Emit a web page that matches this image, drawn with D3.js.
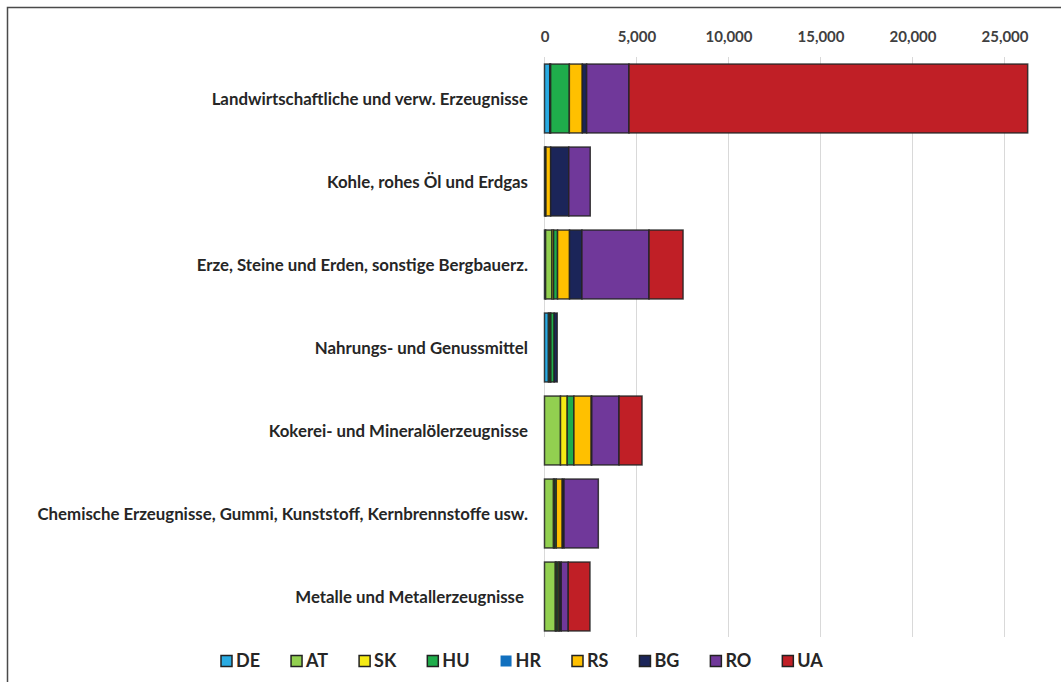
<!DOCTYPE html>
<html>
<head>
<meta charset="utf-8">
<script src="https://cdn.jsdelivr.net/npm/d3@7"></script>
<style>
  body { margin: 0; background: #fff; }
  text { font-family: Lato, "Open Sans", sans-serif; font-weight: bold; }
</style>
</head>
<body>
<script>
var categories = [
  "Landwirtschaftliche und verw. Erzeugnisse",
  "Kohle, rohes Öl und Erdgas",
  "Erze, Steine und Erden, sonstige Bergbauerz.",
  "Nahrungs- und Genussmittel",
  "Kokerei- und Mineralölerzeugnisse",
  "Chemische Erzeugnisse, Gummi, Kunststoff, Kernbrennstoffe usw.",
  "Metalle und Metallerzeugnisse\u00a0"
];
var countries = ["DE", "AT", "SK", "HU", "HR", "RS", "BG", "RO", "UA"];
var colors = ["#29abe2", "#92d050", "#f5ea14", "#1fad4b", "#1170bf", "#ffc000", "#1b2559", "#70389a", "#c01f26"];

// values per country, one per category (same order as categories)
var DE = [285, 0, 60, 215, 0, 0, 0];
var AT = [50, 40, 345, 80, 870, 490, 590];
var SK = [0, 0, 90, 50, 365, 60, 50];
var HU = [1015, 40, 215, 180, 365, 90, 100];
var HR = [0, 0, 0, 0, 0, 0, 0];
var RS = [705, 255, 650, 0, 940, 325, 75];
var BG = [235, 985, 675, 165, 30, 95, 95];
var RO = [2300, 1165, 3645, 0, 1480, 1865, 380];
var UA = [21670, 0, 1850, 0, 1250, 0, 1180];
var tickValues = [0, 5000, 10000, 15000, 20000, 25000];

var series = [DE, AT, SK, HU, HR, RS, BG, RO, UA];
var table = categories.map(function(c, i) {
  var row = {cat: c};
  countries.forEach(function(k, j) { row[k] = series[j][i]; });
  return row;
});

var W = 1061, H = 682;
var svg = d3.select("body").append("svg").attr("width", W).attr("height", H);

// outer frame (runs off the right and bottom edge)
svg.append("rect")
  .attr("x", 7.5).attr("y", 7.5).attr("width", W + 20).attr("height", H + 20)
  .attr("fill", "none").attr("stroke", "#4a4a4a").attr("stroke-width", 1.5);

var x = d3.scaleLinear().domain([0, 25000]).range([544.5, 1004.5]);
var y = d3.scaleBand().domain(categories).range([57, 638]).paddingInner(0.17).paddingOuter(0.085);

// gridlines
svg.append("g").selectAll("line")
  .data(tickValues)
  .enter().append("line")
    .attr("x1", function(d) { return x(d); })
    .attr("x2", function(d) { return x(d); })
    .attr("y1", 57).attr("y2", 637)
    .attr("stroke", "#d9d9d9").attr("stroke-width", 1);

// top axis labels
var xAxis = svg.append("g")
  .attr("transform", "translate(0,42)")
  .call(d3.axisTop(x).tickValues(tickValues).tickSize(0).tickPadding(0).tickFormat(d3.format(",")));
xAxis.select(".domain").remove();
xAxis.selectAll("text")
  .attr("fill", "#404040")
  .style("font-size", "15px");

// stacked bars
var stack = d3.stack().keys(countries)(table);
var color = d3.scaleOrdinal().domain(countries).range(colors);

svg.append("g").selectAll("g")
  .data(stack)
  .enter().append("g")
    .attr("fill", function(d) { return color(d.key); })
  .selectAll("rect")
  .data(function(d) { return d.filter(function(s) { return s[1] - s[0] > 0; }); })
  .enter().append("rect")
    .attr("x", function(d) { return x(d[0]); })
    .attr("width", function(d) { return x(d[1]) - x(d[0]); })
    .attr("y", function(d) { return y(d.data.cat); })
    .attr("height", y.bandwidth())
    .attr("stroke", "#222")
    .attr("stroke-opacity", 0.85)
    .attr("stroke-width", 1.5);

// category labels
var labels = svg.append("g").selectAll("text")
  .data(categories)
  .enter().append("text")
    .attr("x", 528)
    .attr("y", function(d) { return y(d) + y.bandwidth() / 2 + 2; })
    .attr("text-anchor", "end")
    .attr("dominant-baseline", "middle")
    .attr("fill", "#262626")
    .style("font-size", "15px")
    .text(function(d) { return d; });

// fit the longest label to the width seen in the reference
var longest = d3.max(labels.nodes(), function(n) { return n.getComputedTextLength(); });
var fs = 15 * 491 / longest;
labels.style("font-size", fs + "px");

// legend
var legend = svg.append("g");
var lx = 221;
countries.forEach(function(k, i) {
  var g = legend.append("g").attr("transform", "translate(" + lx + ",661)");
  g.append("rect")
    .attr("x", 0).attr("y", -5.5).attr("width", 11).attr("height", 11)
    .attr("fill", colors[i])
    .attr("stroke", k == "HR" ? "none" : "#222")
    .attr("stroke-width", 1.5);
  var t = g.append("text")
    .attr("x", 15).attr("y", 1)
    .attr("dominant-baseline", "middle")
    .attr("fill", "#262626")
    .style("font-size", "18px")
    .text(k);
  lx += 15 + t.node().getComputedTextLength() + 31;
});
</script>
</body>
</html>
